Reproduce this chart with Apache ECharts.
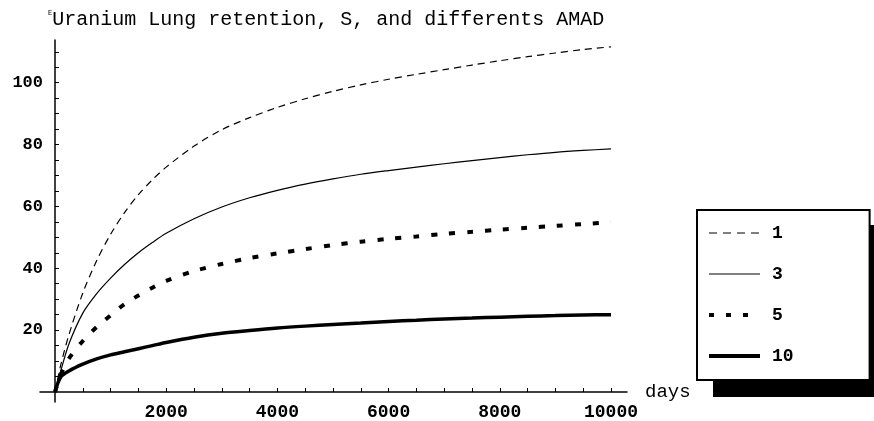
<!DOCTYPE html>
<html>
<head>
<meta charset="utf-8">
<script src="https://cdn.jsdelivr.net/npm/echarts@6/dist/echarts.min.js"></script>
<style>
html,body{margin:0;padding:0;background:#fff;}
#chart{width:874px;height:421px;}
</style>
</head>
<body>
<div id="chart"></div>
<script>
const titleText = 'Uranium Lung retention, S, and differents AMAD';
const xName = 'days';
const seriesNames = ['1', '3', '5', '10'];
const days = [0, 100, 250, 500, 750, 1000, 1250, 1500, 1750, 2000, 2500, 3000, 3500, 4000, 4500, 5000, 5500, 6000, 6500, 7000, 7500, 8000, 8500, 9000, 9500, 10000];
const amad1 = [0, 8.5, 18.5, 32.0, 42.5, 51.0, 58.0, 63.8, 68.6, 72.7, 79.5, 84.8, 88.7, 92.0, 94.8, 97.2, 99.3, 101.1, 102.7, 104.2, 105.7, 107.1, 108.4, 109.6, 110.7, 111.6];
const amad3 = [0, 6.6, 15.5, 25.5, 31.8, 36.8, 41.2, 45.0, 48.3, 51.3, 56.0, 59.8, 62.8, 65.2, 67.2, 68.9, 70.4, 71.6, 72.7, 73.8, 74.8, 75.8, 76.7, 77.5, 78.1, 78.6];
const amad5 = [0, 5.5, 10.8, 16.5, 21.0, 24.8, 28.4, 31.2, 33.7, 35.9, 39.1, 41.4, 43.3, 44.8, 46.2, 47.5, 48.6, 49.5, 50.3, 51.1, 51.8, 52.5, 53.1, 53.7, 54.3, 54.9];
const amad10 = [0, 4.8, 6.8, 9.0, 10.7, 12.0, 13.0, 14.0, 15.0, 16.0, 17.7, 19.0, 19.9, 20.7, 21.3, 21.8, 22.3, 22.8, 23.2, 23.6, 23.9, 24.2, 24.5, 24.7, 24.9, 25.0];
const xTicks = [500, 1000, 1500, 2000, 2500, 3000, 3500, 4000, 4500, 5000, 5500, 6000, 6500, 7000, 7500, 8000, 8500, 9000, 9500, 10000];
const xLabels = [2000, 4000, 6000, 8000, 10000];
const yTicks = [5, 10, 15, 20, 25, 30, 35, 40, 45, 50, 55, 60, 65, 70, 75, 80, 85, 90, 95, 100, 105, 110];
const yLabels = [20, 40, 60, 80, 100];

const FONT = '"Liberation Mono", "DejaVu Sans Mono", monospace';
function pairs(vals) { return days.map((d, i) => [d, vals[i]]); }

const styles = [
  { width: 1.2, type: [7, 5] },
  { width: 1.2, type: 'solid' },
  { width: 4, type: [6, 12] },
  { width: 3.5, type: 'solid' }
];
const legendStyles = [
  { width: 1.2, type: [8, 6] },
  { width: 1.2, type: 'solid' },
  { width: 4, type: [5, 12] },
  { width: 4, type: 'solid' }
];
const allData = [amad1, amad3, amad5, amad10];

const chart = echarts.init(document.getElementById('chart'), null, { renderer: 'canvas' });
chart.setOption({
  animation: false,
  backgroundColor: '#fff',
  title: {
    text: '{sup|E}{main|' + titleText + '}',
    left: 48,
    top: 10,
    padding: 0,
    textStyle: {
      fontWeight: 'normal',
      rich: {
        sup: { fontFamily: FONT, fontSize: 7, fontWeight: 'normal', color: '#000', verticalAlign: 'top', padding: [0, 0, 10, 0] },
        main: { fontFamily: FONT, fontSize: 20, fontWeight: 'normal', color: '#000' }
      }
    }
  },
  grid: { left: 40, right: 247, top: 40, bottom: 19, containLabel: false, outerBoundsMode: 'none' },
  graphic: [{
    type: 'rect',
    shape: { x: 713, y: 225, width: 172, height: 172 },
    style: { fill: '#000' },
    z: 0,
    silent: true
  }],
  legend: {
    data: seriesNames.map((n, i) => ({
      name: n,
      lineStyle: { color: '#000', width: legendStyles[i].width, type: legendStyles[i].type, cap: 'butt' }
    })),
    orient: 'vertical',
    left: 697,
    top: 210,
    z: 10,
    padding: [14, 76, 15, 10],
    itemWidth: 51,
    itemHeight: 14,
    itemGap: 23,
    backgroundColor: '#fff',
    borderColor: '#000',
    borderWidth: 2,
    itemStyle: { color: 'rgba(0,0,0,0)', borderWidth: 0, opacity: 0 },
    textStyle: { fontFamily: FONT, fontSize: 18, fontWeight: 'bold', color: '#000', padding: [0, 0, 0, 7] }
  },
  xAxis: {
    type: 'value',
    min: -270,
    max: 10288,
    name: xName,
    nameLocation: 'end',
    nameGap: 18,
    nameTextStyle: { fontFamily: FONT, fontSize: 19, color: '#000', verticalAlign: 'middle' },
    axisLine: { onZero: true, lineStyle: { color: '#000', width: 1.5 } },
    axisTick: { show: true, inside: true, length: 4, customValues: xTicks, lineStyle: { color: '#000', width: 1 } },
    axisLabel: { customValues: xLabels, margin: 1, fontFamily: FONT, fontSize: 18, fontWeight: 'bold', color: '#000', formatter: v => String(v) },
    splitLine: { show: false }
  },
  yAxis: {
    type: 'value',
    min: -3.23,
    max: 113.8,
    axisLine: { show: true, onZero: true, lineStyle: { color: '#000', width: 1.5 } },
    axisTick: { show: true, inside: true, length: 4, customValues: yTicks, lineStyle: { color: '#000', width: 1 } },
    axisLabel: { customValues: yLabels, margin: -3, fontFamily: FONT, fontSize: 17, fontWeight: 'bold', color: '#000', formatter: v => String(v) },
    splitLine: { show: false }
  },
  series: seriesNames.map((name, i) => ({
    name: name,
    type: 'line',
    data: pairs(allData[i]),
    symbol: 'none',
    smooth: 0.3,
    lineStyle: { color: '#000', width: styles[i].width, type: styles[i].type, cap: 'butt' },
    itemStyle: { color: '#000' }
  }))
});
</script>
</body>
</html>
